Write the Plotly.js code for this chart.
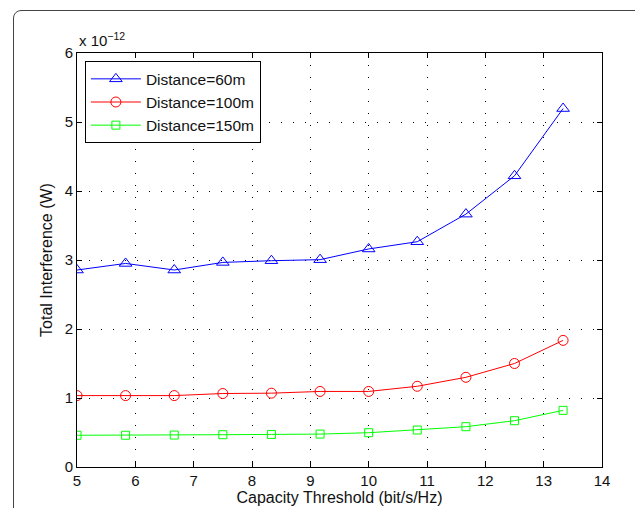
<!DOCTYPE html>
<html>
<head>
<meta charset="utf-8">
<script src="https://cdn.plot.ly/plotly-3.0.1.min.js"></script>
<style>
html,body{margin:0;padding:0;background:#fff;}
body{overflow:hidden;width:635px;height:508px;position:relative;}
#frame{position:absolute;left:13px;top:10px;width:630px;height:560px;border:1px solid #444;border-radius:8px;box-sizing:border-box;}
#chart{position:absolute;left:0;top:0;width:635px;height:508px;}
</style>
</head>
<body>
<div id="frame"></div>
<div id="chart"></div>
<script>
var capacity = [5, 5.833, 6.667, 7.5, 8.333, 9.167, 10, 10.833, 11.667, 12.5, 13.333];
var dist60 = [2.855, 2.95, 2.855, 2.965, 2.99, 3.005, 3.16, 3.265, 3.665, 4.22, 5.195];
var dist100 = [1.035, 1.035, 1.035, 1.065, 1.07, 1.095, 1.095, 1.17, 1.30, 1.50, 1.835];
var dist150 = [0.46, 0.46, 0.463, 0.468, 0.472, 0.477, 0.497, 0.536, 0.584, 0.671, 0.821];
var seriesNames = ['Distance=60m', 'Distance=100m', 'Distance=150m'];
var xTicks = [5, 6, 7, 8, 9, 10, 11, 12, 13, 14];
var yTicks = [0, 1, 2, 3, 4, 5, 6];

var font = 'Liberation Sans';
var traces = [
  {x: capacity, y: dist60, name: seriesNames[0], mode: 'lines+markers',
   line: {color: '#0000ff', width: 1}, marker: {symbol: 'triangle-up-open', size: 11, color: '#0000ff', line: {width: 1}}},
  {x: capacity, y: dist100, name: seriesNames[1], mode: 'lines+markers',
   line: {color: '#ff0000', width: 1}, marker: {symbol: 'circle-open', size: 10, color: '#ff0000', line: {width: 1}}},
  {x: capacity, y: dist150, name: seriesNames[2], mode: 'lines+markers',
   line: {color: '#00ff00', width: 1}, marker: {symbol: 'square-open', size: 8, color: '#00ff00', line: {width: 1}}}
];
var axisCommon = {
  showline: true, linecolor: '#000', linewidth: 1, mirror: 'ticks',
  ticks: 'inside', ticklen: 5, tickcolor: '#000', tickwidth: 1,
  showgrid: true, gridcolor: '#000', gridwidth: 1, griddash: '1px,11px',
  zeroline: false, tickfont: {family: font, size: 15, color: '#111'}
};
var layout = {
  width: 635, height: 508,
  margin: {l: 77, r: 33, t: 53, b: 41},
  paper_bgcolor: 'rgba(0,0,0,0)', plot_bgcolor: '#fff',
  showlegend: true,
  legend: {x: 0.015, y: 0.98, xanchor: 'left', yanchor: 'top', bgcolor: '#fff',
           bordercolor: '#000', borderwidth: 1, font: {family: font, size: 15.5, color: '#111'},
           tracegroupgap: 0, itemwidth: 50},
  xaxis: Object.assign({}, axisCommon, {range: [5, 14], tickvals: xTicks,
    title: {text: 'Capacity Threshold (bit/s/Hz)', font: {family: font, size: 16, color: '#111'}, standoff: 2}}),
  yaxis: Object.assign({}, axisCommon, {range: [0, 6], tickvals: yTicks,
    title: {text: 'Total Interference (W)', font: {family: font, size: 16, color: '#111'}, standoff: 8}}),
  annotations: [{xref: 'paper', yref: 'paper', x: 0, y: 1, xanchor: 'left', yanchor: 'bottom',
    text: 'x 10<sup>\u221212</sup>', showarrow: false, yshift: 2,
    font: {family: font, size: 15, color: '#111'}}]
};
Plotly.newPlot('chart', traces, layout, {displayModeBar: false, staticPlot: true});
</script>
</body>
</html>
